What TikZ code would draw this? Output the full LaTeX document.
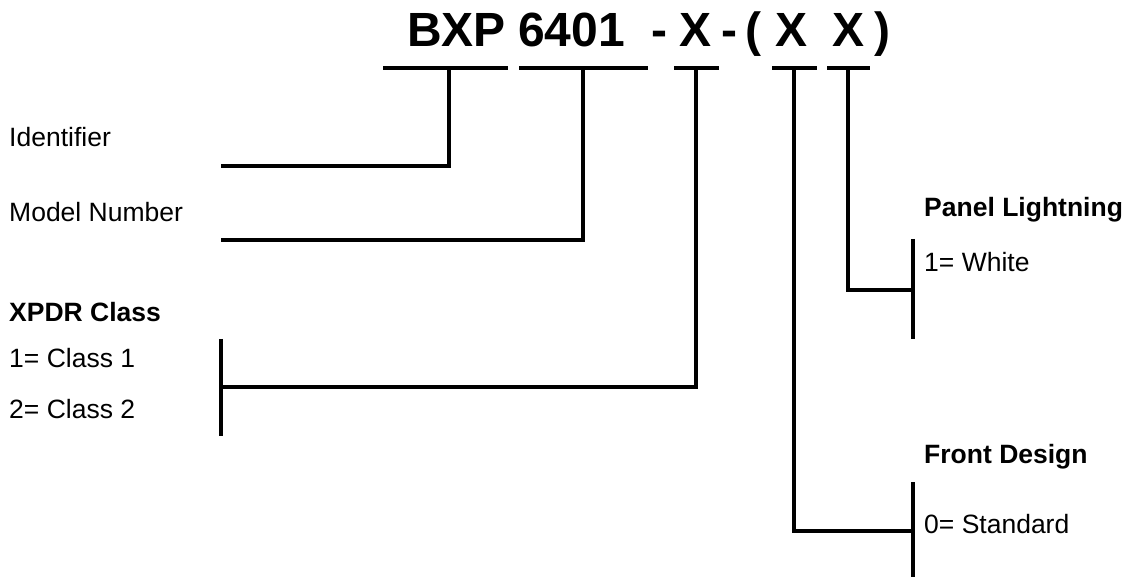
\documentclass[tikz,border=0pt]{standalone}
\usepackage{fontspec}
\setmainfont{Liberation Sans}
\begin{document}
\begin{tikzpicture}[x=1pt,y=-1pt,
  title/.style={font=\fontsize{48}{57}\selectfont\bfseries, inner sep=0pt, anchor=base},
  lbl/.style={font=\fontsize{26.5}{32}\selectfont, inner sep=0pt, anchor=base west},
  hdr/.style={font=\fontsize{26.5}{32}\selectfont\bfseries, inner sep=0pt, anchor=base west},
  wire/.style={line width=4pt, line join=miter, line cap=butt}]
\useasboundingbox (0,0) rectangle (1128,577);

% title pieces
\node[title] (t1) at (456.5,47) {BXP};
\node[title] (t2) at (571.5,47) {6401};
\node[title] (t3) at (659.5,47) {-};
\node[title] (t4) at (695.5,47) {X};
\node[title] (t5) at (729,47) {-};
\node[title] (t6) at (753.5,47) {(};
\node[title] (t7) at (791.5,47) {X};
\node[title] (t8) at (848,47) {X};
\node[title] (t9) at (882,47) {)};

% underline bars
\coordinate (b1l) at (383,68); \coordinate (b1r) at (508,68); \coordinate (b1m) at (449,68);
\coordinate (b2l) at (519,68); \coordinate (b2r) at (648,68); \coordinate (b2m) at (583,68);
\coordinate (b3l) at (674,68); \coordinate (b3r) at (719,68); \coordinate (b3m) at (696,68);
\coordinate (b4l) at (772,68); \coordinate (b4r) at (817,68); \coordinate (b4m) at (794,68);
\coordinate (b5l) at (827,68); \coordinate (b5r) at (870,68); \coordinate (b5m) at (848,68);
\draw[wire] (b1l) -- (b1r);
\draw[wire] (b2l) -- (b2r);
\draw[wire] (b3l) -- (b3r);
\draw[wire] (b4l) -- (b4r);
\draw[wire] (b5l) -- (b5r);

% labels
\node[lbl] (ident) at (9,147) {Identifier};
\node[lbl] (model) at (9,222) {Model Number};
\node[hdr] (xpdr) at (9,322) {XPDR Class};
\node[lbl] (c1) at (9,368) {1= Class 1};
\node[lbl] (c2) at (9,418) {2= Class 2};
\node[hdr] (panel) at (924,217) {Panel Lightning};
\node[lbl] (white) at (924,272) {1= White};
\node[hdr] (front) at (924,463) {Front Design};
\node[lbl] (std) at (924,533) {0= Standard};

% connector end points
\coordinate (e1) at (221,166);
\coordinate (e2) at (221,240);
\coordinate (e3) at (221,387);
\coordinate (k3t) at (221,339); \coordinate (k3b) at (221,436);
\coordinate (e5) at (913,290);
\coordinate (k5t) at (913,239); \coordinate (k5b) at (913,339);
\coordinate (e4) at (913,531);
\coordinate (k4t) at (913,482); \coordinate (k4b) at (913,577);

% connectors
\draw[wire] (b1m) |- (e1);
\draw[wire] (b2m) |- (e2);
\draw[wire] (b3m) |- (e3);
\draw[wire] (k3t) -- (k3b);
\draw[wire] (b5m) |- (e5);
\draw[wire] (k5t) -- (k5b);
\draw[wire] (b4m) |- (e4);
\draw[wire] (k4t) -- (k4b);
\end{tikzpicture}
\end{document}
